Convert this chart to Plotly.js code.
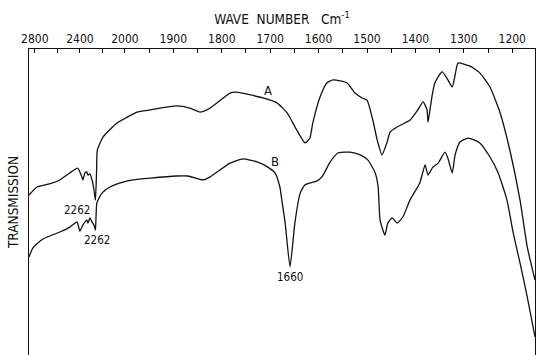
<!DOCTYPE html>
<html>
<head>
<meta charset="utf-8">
<script src="https://cdn.plot.ly/plotly-3.0.1.min.js"></script>
<style>html,body{margin:0;padding:0;background:#fff;}#chart{width:537px;height:355px;}</style>
</head>
<body>
<div id="chart"></div>
<script>
// Wavenumber tick labels (cm-1) and unlabeled minor ticks
const labeledTicks = [2800, 2400, 2000, 1900, 1800, 1700, 1600, 1500, 1400, 1300, 1200];
const minorTicks = [2600, 2200, 1950, 1850, 1750, 1650, 1550, 1450, 1350, 1250];

// Spectrum A: wavenumber (cm-1) and transmission (arbitrary %)
const waveA = [2852, 2780, 2670, 2580, 2490, 2420, 2382, 2373, 2355, 2338, 2328, 2312, 2292, 2275, 2262, 2252, 2245,
  2195, 2071, 2000, 1975, 1948, 1893, 1866, 1845, 1824, 1783, 1769, 1715, 1686, 1665, 1645, 1628, 1618, 1612,
  1597, 1583, 1570, 1541, 1525, 1510, 1500, 1488, 1479, 1469, 1459, 1452, 1438, 1411, 1395, 1384, 1376, 1374,
  1366, 1360, 1345, 1335, 1324, 1318, 1312, 1287, 1267, 1246, 1225, 1205, 1184, 1169, 1153];
const transA = [52.3, 54.9, 55.9, 57.2, 59.5, 61.1, 58.2, 57.2, 59.5, 59.8, 58.8, 59.2, 57.2, 54.0, 50.6, 60.0, 67.0,
  71.2, 75.8, 77.3, 79.4, 80.1, 81.4, 80.7, 79.4, 80.7, 85.6, 85.9, 84.0, 82.4, 79.1, 73.5, 69.3, 70.9, 75.8,
  84.3, 88.9, 89.9, 88.9, 85.6, 84.0, 83.3, 76.8, 70.3, 65.4, 69.3, 72.9, 74.5, 76.8, 80.1, 82.7, 80.1, 76.1,
  84.3, 88.9, 92.5, 90.5, 87.6, 91.5, 95.4, 94.4, 92.2, 87.6, 79.1, 67.0, 50.7, 35.3, 24.5];

// Spectrum B
const waveB = [2852, 2817, 2728, 2577, 2488, 2426, 2400, 2373, 2337, 2329, 2311, 2293, 2275, 2262, 2249, 2204, 2133,
  2018, 1983, 1948, 1893, 1870, 1839, 1824, 1783, 1756, 1727, 1705, 1690, 1680, 1676, 1669, 1659, 1649, 1638,
  1628, 1603, 1593, 1576, 1560, 1535, 1514, 1498, 1483, 1477, 1473, 1463, 1457, 1448, 1438, 1426, 1411, 1391,
  1380, 1374, 1364, 1353, 1339, 1333, 1324, 1318, 1308, 1291, 1267, 1246, 1229, 1211, 1198, 1184, 1169, 1153];
const transB = [32.0, 35.0, 37.9, 40.2, 41.8, 43.5, 40.5, 42.5, 44.1, 43.1, 44.8, 43.5, 42.5, 40.8, 49.7, 52.9, 54.9,
  56.5, 57.2, 57.8, 58.5, 58.5, 57.2, 58.2, 62.7, 64.1, 63.1, 61.4, 59.5, 54.9, 50.7, 43.1, 28.8, 43.1, 52.9,
  55.6, 56.9, 58.2, 63.1, 66.0, 66.3, 65.4, 63.7, 59.5, 54.9, 44.1, 39.2, 43.1, 44.8, 43.1, 45.1, 50.7, 56.2,
  62.1, 58.8, 61.4, 62.7, 66.3, 64.4, 59.5, 65.4, 69.6, 70.9, 69.3, 64.7, 59.5, 50.7, 39.9, 30.1, 19.0, 5.9];

// Text labels on the chart
const curveNames = ['A', 'B'];
const curveNameWave = [1705, 1690];
const curveNameT = [86.6, 63.1];
const peakText = ['2262', '2262', '1660'];
const peakWave = [2262, 2262, 1660];
const peakT = [50.6, 40.8, 28.8];
const peakLabelWave = [2426, 2250, 1659];
const peakLabelT = [47.4, 37.6, 25.5];

// The chart paper changes scale at 2000 cm-1 (compressed above)
function chartPos(w) { return w >= 2000 ? (2000 - w) / 4.3 : 2000 - w; }

const font = 'Liberation Sans Narrow, DejaVu Sans Condensed, Arial Narrow, sans-serif';
const ink = '#111';

const traces = [
  {x: waveA.map(chartPos), y: transA, mode: 'lines', line: {color: ink, width: 1.3, shape: 'spline', smoothing: 0.5}, hoverinfo: 'skip'},
  {x: waveB.map(chartPos), y: transB, mode: 'lines', line: {color: ink, width: 1.3, shape: 'spline', smoothing: 0.5}, hoverinfo: 'skip'}
];

const annotations = [];
curveNames.forEach((t, i) => annotations.push({
  x: chartPos(curveNameWave[i]), y: curveNameT[i], xref: 'x', yref: 'y', text: t, showarrow: false,
  font: {family: font, size: 13, color: ink}
}));
peakText.forEach((t, i) => annotations.push({
  x: chartPos(peakLabelWave[i]), y: peakLabelT[i], xref: 'x', yref: 'y', text: t, showarrow: false,
  font: {family: font, size: 11.5, color: ink}
}));

const layout = {
  width: 537, height: 355,
  margin: {l: 29, r: 2, t: 49, b: 0},
  paper_bgcolor: '#fff', plot_bgcolor: '#fff',
  showlegend: false,
  xaxis: {
    side: 'top', range: [chartPos(2852), chartPos(1153)],
    tickmode: 'array', tickvals: labeledTicks.map(chartPos), ticktext: labeledTicks.map(String),
    ticks: 'inside', ticklen: 4, tickwidth: 1, tickcolor: ink,
    minor: {tickmode: 'array', tickvals: minorTicks.map(chartPos), ticks: 'inside', ticklen: 4, tickwidth: 1, tickcolor: ink, showgrid: false},
    showline: true, linecolor: ink, linewidth: 1.3, mirror: false,
    showgrid: false, zeroline: false,
    tickfont: {family: font, size: 12, color: ink},
    title: {text: 'WAVE  NUMBER   Cm<sup>-1</sup>', font: {family: font, size: 13.5, color: ink}, standoff: 4}
  },
  yaxis: {
    range: [0, 100], showticklabels: false, ticks: '',
    showline: true, linecolor: ink, linewidth: 1.3, mirror: true,
    showgrid: false, zeroline: false, automargin: true,
    title: {text: 'TRANSMISSION', font: {family: font, size: 13.5, color: ink}, standoff: 6}
  },
  annotations: annotations
};

Plotly.newPlot('chart', traces, layout, {staticPlot: true, displayModeBar: false});
</script>
</body>
</html>
